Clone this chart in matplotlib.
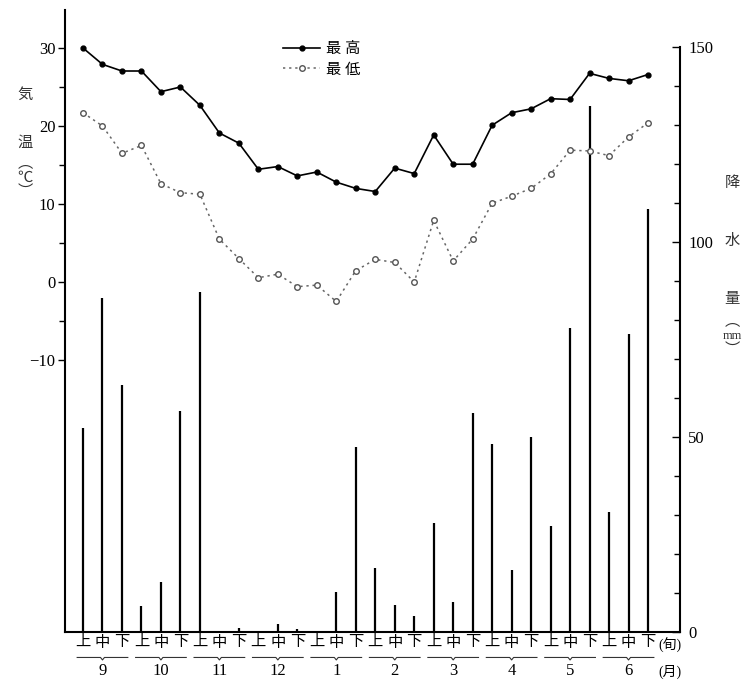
import numpy as np
import matplotlib
matplotlib.use("Agg")
import matplotlib.pyplot as plt
import matplotlib.transforms as mtransforms

plt.rcParams['font.family'] = ['Liberation Serif', 'Noto Sans CJK JP', 'DejaVu Sans']

months = ['9', '10', '11', '12', '1', '2', '3', '4', '5', '6']
dekads = ['上', '中', '下']

t_max = [30.0, 27.9, 27.05, 27.05, 24.4, 25.0, 22.65, 19.1, 17.8,
         14.45, 14.8, 13.6, 14.1, 12.8, 12.0, 11.6, 14.6, 13.9,
         18.85, 15.1, 15.1, 20.1, 21.7, 22.2, 23.5, 23.4, 26.75,
         26.1, 25.8, 26.6]
t_min = [21.7, 20.0, 16.5, 17.5, 12.6, 11.45, 11.25, 5.5, 3.0,
         0.55, 1.0, -0.6, -0.4, -2.5, 1.45, 2.9, 2.5, 0.0,
         7.9, 2.7, 5.5, 10.1, 11.0, 12.0, 13.85, 16.9, 16.8,
         16.2, 18.6, 20.4]
rain = [52.4, 85.6, 63.3, 6.7, 12.9, 56.7, 87.2, 0.3, 1.0,
        0.0, 2.0, 0.8, 0.3, 10.3, 47.5, 16.5, 6.9, 4.2,
        27.9, 7.8, 56.1, 48.1, 15.9, 50.1, 27.2, 78.0, 134.9,
        30.7, 76.3, 108.5]

x = np.arange(len(t_max))

fig = plt.figure(figsize=(7.42, 6.81), dpi=100)
ax = fig.add_axes([0.0876, 0.0720, 0.8288, 0.9133])
ax2 = ax.twinx()

# precipitation bars (right axis)
ax2.vlines(x, 0, rain, color='black', lw=1.6)
ax2.set_ylim(0, 159.5)
ax2.spines['right'].set_bounds(0, 150)
ax2.spines['right'].set_linewidth(1.5)
ax2.spines['top'].set_visible(False)
ax2.spines['left'].set_visible(False)
ax2.spines['bottom'].set_visible(False)
ax2.set_yticks([0, 50, 100, 150])
ax2.set_yticks(np.arange(0, 151, 10), minor=True)
ax2.tick_params(axis='y', which='major', direction='in', length=6, width=1, labelsize=12, pad=6)
ax2.tick_params(axis='y', which='minor', direction='in', length=4, width=1)

# temperature lines drawn above the bars
ax.set_zorder(ax2.get_zorder() + 1)
ax.patch.set_visible(False)
ax.plot(x, t_max, color='black', lw=1.2, marker='o', ms=3.5, label='最 高')
ax.plot(x, t_min, color='#666666', lw=1.1, ls=(0, (1.5, 2.5)), marker='o', ms=4,
        mfc='white', mec='#555555', mew=1, label='最 低')
ax.set_xlim(-0.924, 30.64)
ax.set_ylim(-44.87, 34.87)
ax.spines['top'].set_visible(False)
ax.spines['right'].set_visible(False)
ax.spines['left'].set_linewidth(1.5)
ax.spines['bottom'].set_linewidth(1.5)
ax.set_yticks([-10, 0, 10, 20, 30])
ax.set_yticklabels(['−10', '0', '10', '20', '30'])
ax.set_yticks([-5, 5, 15, 25], minor=True)
ax.tick_params(axis='y', which='major', length=5, width=1, labelsize=12, pad=2)
ax.tick_params(axis='y', which='minor', length=4, width=1)

ax.set_xticks(x)
ax.set_xticklabels(dekads * len(months), fontsize=11)
ax.tick_params(axis='x', length=0, pad=3)

# month labels with a bracket under each group of three
trans = mtransforms.blended_transform_factory(ax.transData, ax.transAxes)
for k, m in enumerate(months):
    c = 3 * k + 1
    ax.plot([c - 1.3, c - 0.1, c, c + 0.1, c + 1.3], [-0.041, -0.041, -0.045, -0.041, -0.041],
            color='#333333', lw=0.8, transform=trans, clip_on=False)
    ax.text(c, -0.062, m, transform=trans, ha='center', va='center', fontsize=12)
ax.text(30.1, -0.021, '(旬)', transform=trans, ha='center', va='center', fontsize=10)
ax.text(30.1, -0.065, '(月)', transform=trans, ha='center', va='center', fontsize=10)

# vertical axis titles
for ch, yy in [('気', 95), ('温', 143), ('︵', 164), ('℃', 178), ('︶', 192)]:
    fig.text(25 / 742, 1 - yy / 681, ch, ha='center', va='center', fontsize=11,
             color='#333333')
for ch, yy in [('降', 183), ('水', 241), ('量', 300), ('︵', 322), ('mm', 336), ('︶', 350)]:
    fig.text(732 / 742, 1 - yy / 681, ch, ha='center', va='center',
             fontsize=9 if ch == 'mm' else 11, color='#333333')

ax.legend(loc='upper left', bbox_to_anchor=(0.345, 0.958), frameon=False,
          handlelength=2.4, handletextpad=0.4, labelspacing=0.45, fontsize=11,
          borderaxespad=0)

fig.savefig('out.png', dpi=100)
